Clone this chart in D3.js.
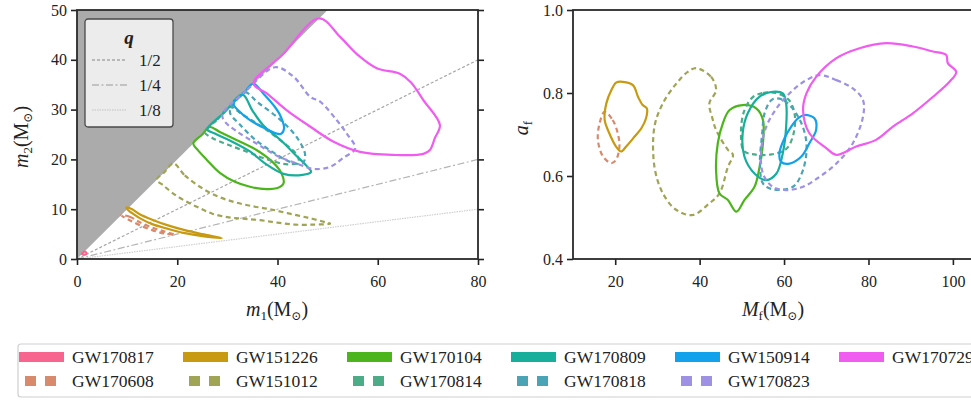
<!DOCTYPE html>
<html>
<head>
<meta charset="utf-8">
<script src="https://cdn.jsdelivr.net/npm/d3@7"></script>
<style>
  body { margin: 0; background: #fff; }
  svg text { font-family: 'Liberation Serif', 'DejaVu Serif', serif; fill: #222; }
</style>
</head>
<body>
<svg id="fig" width="971" height="400"></svg>
<script>
'use strict';

// events, in legend (column-major) order: solid, dashed, solid, dashed ...
const events  = ['GW170817', 'GW170608', 'GW151226', 'GW151012', 'GW170104', 'GW170814',
                 'GW170809', 'GW170818', 'GW150914', 'GW170823', 'GW170729']
const colours = ['#f7648e', '#d98a6c', '#c89a12', '#a0a556', '#4cb51c', '#4dac88',
                 '#17ae9c', '#4ba4b5', '#12a2ec', '#9e90e4', '#f05cf0']

const m1Ticks = [0, 20, 40, 60, 80]
const m2Ticks = [0, 10, 20, 30, 40, 50]
const mfTicks = [20, 40, 60, 80, 100]
const afTicks = [0.4, 0.6, 0.8, 1.0]

const qRatios = [1/2, 1/4, 1/8]
const qLabels = ['1/2', '1/4', '1/8']

// 90% credible contours in (m1, m2)
const m1m2_GW170817 = [[1.0,1.0],[1.5,1.5],[1.9,1.2],[1.7,0.9],[1.2,0.9]]
const m1m2_GW170608 = [[8.8,8.8],[10.5,8.5],[12.5,7.4],[15,6.3],[17.5,5.5],[19.5,4.9],
                       [17.5,5.1],[15,5.8],[12.5,6.8],[10.5,7.8],[9.2,8.5]]
const m1m2_GW151226 = [[9.9,10.4],[11,10.0],[12.5,9.0],[15,7.9],[18,6.8],[21.5,5.8],[25,5.0],[28.9,4.2],
                       [25,4.6],[21.5,5.2],[18,6.1],[15,7.0],[12.5,8.2],[11,9.2],[10.1,9.9]]
const m1m2_GW151012 = [[19.2,19.2],[21.5,16.8],[24.5,14.5],[28,12.6],[31.5,11.4],[35,10.6],[38.5,10.0],
                       [42,9.2],[46,8.3],[49.5,7.4],[50.5,7.1],[47,6.9],[43.5,6.9],[40,7.3],[36.5,7.8],
                       [33,8.1],[30,8.4],[27,9.1],[24.5,10.2],[21.5,11.7],[19,13.3],[17.2,14.8],
                       [15.9,15.9],[17.5,17.5]]
const m1m2_GW170104 = [[23.2,23.2],[25,25],[26.5,26.5],[28.5,25.5],[31.2,24.2],[35.8,21.9],[39,19.5],
                       [40.8,17.2],[41.2,15.2],[39.8,14.2],[37,14.1],[34.5,14.5],[31.5,15.5],
                       [28.5,17.3],[25.9,19.9],[24,22]]
const m1m2_GW170814 = [[25.5,25.5],[28,28],[30.5,30.5],[33,29],[37,26.5],[41,23.5],[43.8,21],
                       [44.2,19.5],[42,19],[38,20],[34,21.5],[30,23],[27,24.3]]
const m1m2_GW170809 = [[26,26],[29.5,29.5],[33,33],[35,29.8],[37.2,26.8],[40.5,24],[43.8,20.7],
                       [45.8,18.7],[46.7,17.5],[45,16.9],[41.2,17.1],[37.5,19.2],[34.5,21.6],
                       [30.5,23.8],[27.5,25.2]]
const m1m2_GW170818 = [[31.6,31.6],[33.5,33.5],[36,31.5],[40.5,28],[43.8,24.5],[45.5,21],[45,19.2],
                       [42.5,19.5],[39,21.5],[35.5,24],[32.5,27],[30.5,29.5]]
const m1m2_GW150914 = [[31.2,31.2],[33.2,33.2],[35.2,35.2],[37.2,33.2],[39.2,30.9],[40.5,28.9],
                       [41.3,26.2],[40.6,25.1],[37.8,26.1],[34.5,27.9],[32.2,29.8]]
const m1m2_GW170823 = [[29,29],[34,34],[39.5,38.5],[43.2,36.6],[46.5,32.6],[48.5,31.6],[51.8,27.9],
                       [53.8,25.2],[55.5,22.2],[53.1,20.3],[50.5,18.5],[47.1,18.1],[43.8,19.2],
                       [39.8,20.8],[35.8,23.2],[31.9,25.6],[29.5,27.6]]
const m1m2_GW170729 = [[35.2,35.2],[41,41],[48.3,48.3],[52.5,44.6],[56,41],[59.8,38.3],[64.4,37.2],
                       [66.6,35.5],[69.1,31.9],[72.4,26.9],[71.4,24.3],[70.4,21.9],[69.1,21.1],
                       [63.1,20.9],[56.5,21.5],[51.1,23.6],[46.5,26.6],[41.8,29.9],[37.8,33.3]]

// 90% credible contours in (Mf, af)
const mfaf_GW170608 = [[17.5,0.755],[19.4,0.735],[20.6,0.703],[21.0,0.671],[20.2,0.639],[19.1,0.631],
                       [17.1,0.647],[15.9,0.687],[16.3,0.727]]
const mfaf_GW151226 = [[21.8,0.827],[24.2,0.819],[25.4,0.791],[26.5,0.771],[27.5,0.763],[27.3,0.739],
                       [26.2,0.715],[24.6,0.695],[22.6,0.671],[21.4,0.659],[20.2,0.671],[18.6,0.703],
                       [17.5,0.735],[17.9,0.775],[19.1,0.807],[20.2,0.825]]
const mfaf_GW151012 = [[39.2,0.860],[42.7,0.839],[43.9,0.807],[42.3,0.775],[43.0,0.740],[43.9,0.711],
                       [46.7,0.663],[47.9,0.651],[46.7,0.622],[44.7,0.558],[42.3,0.534],[38.4,0.506],
                       [34.5,0.518],[31.3,0.558],[29.3,0.622],[29.3,0.719],[31.3,0.775],[34.5,0.823],
                       [37.2,0.851]]
const mfaf_GW170104 = [[50.2,0.771],[53.4,0.763],[55.0,0.735],[55.0,0.679],[54.2,0.622],[53.0,0.574],
                       [50.6,0.542],[48.7,0.514],[46.7,0.542],[44.7,0.558],[43.9,0.614],[44.3,0.679],
                       [45.5,0.727],[47.1,0.759]]
const mfaf_GW170814 = [[52.6,0.790],[55,0.800],[58,0.800],[61,0.785],[62.5,0.750],[62.2,0.700],
                       [60.5,0.665],[57,0.652],[53,0.652],[50.5,0.660],[49.8,0.700],[50.5,0.755]]
const mfaf_GW170809 = [[57.3,0.803],[59.7,0.799],[60.5,0.775],[60.5,0.719],[59.7,0.655],[58.2,0.606],
                       [55.8,0.590],[53.0,0.606],[50.6,0.647],[50.2,0.703],[51.4,0.751],[54.2,0.791]]
const mfaf_GW170818 = [[57.3,0.785],[60,0.782],[63.5,0.740],[65.3,0.680],[64.5,0.615],[62.1,0.574],
                       [57.3,0.568],[55.0,0.582],[54.3,0.630],[54.8,0.700],[55.5,0.755]]
const mfaf_GW150914 = [[64.9,0.747],[67.2,0.739],[67.6,0.711],[66.0,0.679],[64.1,0.647],[61.3,0.630],
                       [59.3,0.634],[58.9,0.655],[60.1,0.691],[61.7,0.719],[63.3,0.739]]
const mfaf_GW170823 = [[68.4,0.843],[72.4,0.831],[76.3,0.811],[78.7,0.783],[78.7,0.743],[76.3,0.679],
                       [72.4,0.630],[68.4,0.598],[64.5,0.574],[60.5,0.566],[57.3,0.574],[55.0,0.606],
                       [54.6,0.663],[55.8,0.719],[58.5,0.767],[62.1,0.807],[65.3,0.831]]
const mfaf_GW170729 = [[67.6,0.839],[72.4,0.884],[77.9,0.908],[84.2,0.920],[90.5,0.912],[95.3,0.900],
                       [98.4,0.892],[98.8,0.872],[100.8,0.851],[99.2,0.827],[95.3,0.791],[90.5,0.751],
                       [85.8,0.719],[81.8,0.687],[77.1,0.671],[72.4,0.651],[70.0,0.667],[66.0,0.703],
                       [64.5,0.759],[65.3,0.799]]

const massContours = {
  GW170817: m1m2_GW170817, GW170608: m1m2_GW170608, GW151226: m1m2_GW151226,
  GW151012: m1m2_GW151012, GW170104: m1m2_GW170104, GW170814: m1m2_GW170814,
  GW170809: m1m2_GW170809, GW170818: m1m2_GW170818, GW150914: m1m2_GW150914,
  GW170823: m1m2_GW170823, GW170729: m1m2_GW170729
}
const remnantContours = {
  GW170608: mfaf_GW170608, GW151226: mfaf_GW151226, GW151012: mfaf_GW151012,
  GW170104: mfaf_GW170104, GW170814: mfaf_GW170814, GW170809: mfaf_GW170809,
  GW170818: mfaf_GW170818, GW150914: mfaf_GW150914, GW170823: mfaf_GW170823,
  GW170729: mfaf_GW170729
}

const svg = d3.select('#fig')
const isDashed = (ev) => events.indexOf(ev) % 2 === 1
const colourOf = (ev) => colours[events.indexOf(ev)]

const massPanel = {
  x: d3.scaleLinear().domain([0, 80]).range([77, 478]),
  y: d3.scaleLinear().domain([0, 50]).range([259, 10])
}
const remnantPanel = {
  x: d3.scaleLinear().domain([10, 105]).range([573, 974]),
  y: d3.scaleLinear().domain([0.4, 1.0]).range([259, 10])
}

function drawContours(g, panel, contours) {
  const line = d3.line()
    .x((d) => panel.x(d[0]))
    .y((d) => panel.y(d[1]))
    .curve(d3.curveCatmullRomClosed.alpha(0.5))

  g.selectAll('path.contour')
    .data(events.filter((ev) => contours[ev]))
    .enter()
    .append('path')
      .attr('class', 'contour')
      .attr('d',      (ev) => line(contours[ev]))
      .attr('fill',   'none')
      .attr('stroke', (ev) => colourOf(ev))
      .attr('stroke-width', 2.2)
      .attr('stroke-dasharray', (ev) => isDashed(ev) ? '5,3.5' : null)
      .attr('stroke-linejoin', 'round')
}

function drawFrame(g, panel, xTicks, yTicks, yFormat, rightTicks) {
  const [x0, x1] = panel.x.range()
  const [y0, y1] = panel.y.range()

  g.append('g')
    .attr('transform', `translate(0,${y0})`)
    .call(d3.axisBottom(panel.x).tickValues(xTicks).tickSize(6).tickSizeOuter(0).tickPadding(11))
  g.append('g')
    .attr('transform', `translate(${x0},0)`)
    .call(d3.axisLeft(panel.y).tickValues(yTicks).tickSize(6).tickSizeOuter(0).tickPadding(4)
      .tickFormat(yFormat))
  if (rightTicks) {
    g.append('g')
      .attr('transform', `translate(${x1},0)`)
      .call(d3.axisRight(panel.y).tickValues(yTicks).tickSize(6).tickSizeOuter(0).tickFormat(''))
  }
  g.selectAll('.domain').remove()
  g.selectAll('.tick line').attr('stroke', '#222').attr('stroke-width', 1.6)
  g.selectAll('.tick text')
    .attr('font-size', 16)
    .attr('fill', '#222')

  g.append('rect')
    .attr('x', x0)
    .attr('y', y1)
    .attr('width',  x1 - x0)
    .attr('height', y0 - y1)
    .attr('fill', 'none')
    .attr('stroke', '#2a2a2a')
    .attr('stroke-width', 1.8)
}

function axisLabel(g, x, y, rotate, parts) {
  const t = g.append('text')
    .attr('transform', `translate(${x},${y}) rotate(${rotate})`)
    .attr('text-anchor', 'middle')
    .attr('font-size', 20)
  parts.forEach(([txt, italic, shift, size]) => {
    t.append('tspan')
      .attr('font-style', italic ? 'italic' : 'normal')
      .attr('font-size', size || 20)
      .attr('dy', shift)
      .text(txt)
  })
}

// ---- left panel: component masses ----
const left = svg.append('g')
const yMax = massPanel.y.domain()[1]

left.append('path')
  .attr('d', d3.line()([[0, 0], [yMax, yMax], [0, yMax]].map((d) => [massPanel.x(d[0]), massPanel.y(d[1])])) + 'Z')
  .attr('fill', '#ababab')

const qStyles = [
  {stroke: '#a6a6a6', dash: '3,2'},
  {stroke: '#b4b4b4', dash: '7,2.5,2,2.5'},
  {stroke: '#cfcfcf', dash: '1.5,1'}
]
left.selectAll('line.q')
  .data(qRatios)
  .enter()
  .append('line')
    .attr('class', 'q')
    .attr('x1', massPanel.x(0))
    .attr('y1', massPanel.y(0))
    .attr('x2', massPanel.x(80))
    .attr('y2', (q) => massPanel.y(80 * q))
    .attr('stroke', (q, i) => qStyles[i].stroke)
    .attr('stroke-dasharray', (q, i) => qStyles[i].dash)
    .attr('stroke-width', 1.2)

drawContours(left, massPanel, massContours)
drawFrame(left, massPanel, m1Ticks, m2Ticks, d3.format('d'), true)

// q legend
const qBox = left.append('g').attr('transform', 'translate(85,19)')
qBox.append('rect')
  .attr('width', 88)
  .attr('height', 108)
  .attr('rx', 3)
  .attr('fill', '#ececec')
  .attr('stroke', '#4a4a4a')
  .attr('stroke-width', 1.3)
qBox.append('text')
  .attr('x', 44)
  .attr('y', 25)
  .attr('text-anchor', 'middle')
  .attr('font-size', 19)
  .attr('font-style', 'italic')
  .attr('font-weight', 'bold')
  .text('q')
qLabels.forEach((lab, i) => {
  const y = 41 + i * 25
  qBox.append('line')
    .attr('x1', 7).attr('x2', 42)
    .attr('y1', y).attr('y2', y)
    .attr('stroke', qStyles[i].stroke)
    .attr('stroke-dasharray', qStyles[i].dash)
    .attr('stroke-width', 1.4)
  qBox.append('text')
    .attr('x', 54)
    .attr('y', y + 6)
    .attr('font-size', 17)
    .text(lab)
})

axisLabel(left, 277, 316, 0, [['m', true, 0], ['1', false, 4, 13], ['(M', false, -4], ['⊙', false, 4, 12], [')', false, -4]])
axisLabel(left, 28, 137, -90, [['m', true, 0], ['2', false, 4, 13], ['(M', false, -4], ['⊙', false, 4, 12], [')', false, -4]])

// ---- right panel: remnant mass and spin ----
const right = svg.append('g')
drawContours(right, remnantPanel, remnantContours)
drawFrame(right, remnantPanel, mfTicks, afTicks, d3.format('.1f'), false)

axisLabel(right, 773, 316, 0, [['M', true, 0], ['f', false, 4, 13], ['(M', false, -4], ['⊙', false, 4, 12], [')', false, -4]])
axisLabel(right, 528, 128, -90, [['a', true, 0], ['f', false, 4, 13]])

// ---- bottom legend (runs past the right edge, as in the original crop) ----
const legend = svg.append('g')
legend.append('rect')
  .attr('x', 18).attr('y', 344)
  .attr('width', 980).attr('height', 53)
  .attr('rx', 3)
  .attr('fill', '#fff')
  .attr('stroke', '#cfcfcf')
  .attr('stroke-width', 1.2)

events.forEach((ev, i) => {
  const col = Math.floor(i / 2), row = i % 2
  const x0  = 19 + col * 164
  const y   = 357 + row * 24
  const dashed = isDashed(ev)
  legend.append('line')
    .attr('x1', dashed ? x0 + 6 : x0)
    .attr('x2', dashed ? x0 + 38 : x0 + 45)
    .attr('y1', y).attr('y2', y)
    .attr('stroke', colourOf(ev))
    .attr('stroke-width', 10)
    .attr('stroke-dasharray', dashed ? '11,9' : null)
  legend.append('text')
    .attr('x', x0 + 53)
    .attr('y', y + 6)
    .attr('font-size', 17.5)
    .text(ev)
})
</script>
</body>
</html>
